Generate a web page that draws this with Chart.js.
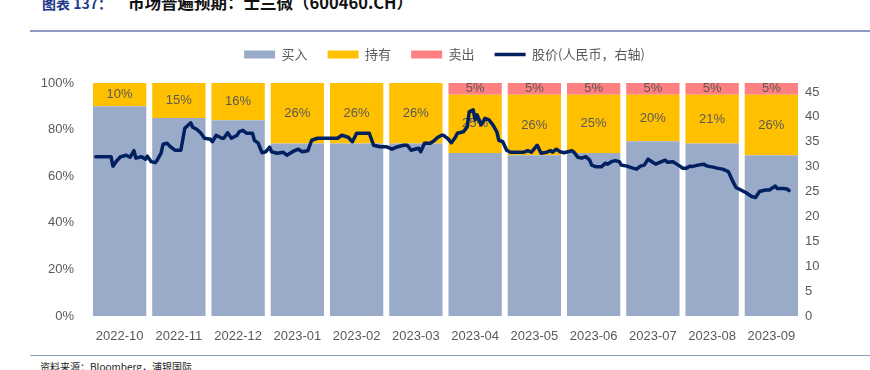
<!DOCTYPE html>
<html><head><meta charset="utf-8">
<script src="https://cdn.jsdelivr.net/npm/chart.js@4.4.0/dist/chart.umd.min.js"></script>
<style>
html,body{margin:0;padding:0;background:#fff;width:870px;height:370px;overflow:hidden;position:relative;font-family:"Noto Sans CJK SC",sans-serif;}
#title{position:absolute;left:42px;top:-6px;line-height:16px;font-weight:bold;color:#111;white-space:nowrap;}
#title .num{color:#1F3A8A;font-size:14px;display:inline-block;width:86px;}
#title .txt{font-size:16.5px;}
.rule{position:absolute;left:30px;width:840px;height:1px;background:#8D9BC6;}
#src{position:absolute;left:40px;top:361px;font-size:10px;line-height:12px;color:#222;white-space:nowrap;}
#wrap{position:absolute;left:19px;top:28px;width:851px;height:324px;}
</style></head>
<body>
<div id="title"><span class="num">图表 137：</span><span class="txt">市场普遍预期：士兰微（600460.CH）</span></div>
<div class="rule" style="top:30px;height:2px"></div>
<div id="wrap"><canvas id="c" width="851" height="324"></canvas></div>
<div class="rule" style="top:355px"></div>
<div id="src">资料来源：Bloomberg，浦银国际</div>
<script>
const categories = ['2022-10','2022-11','2022-12','2023-01','2023-02','2023-03','2023-04','2023-05','2023-06','2023-07','2023-08','2023-09'];
const buyPct  = [90,85,84,74,74,74,70,69,70,75,74,69];
const holdPct = [10,15,16,26,26,26,25,26,25,20,21,26];
const sellPct = [0,0,0,0,0,0,5,5,5,5,5,5];
const seriesNames = ['买入','持有','卖出','股价(人民币，右轴)'];
const pctTicks = [0,20,40,60,80,100];
const priceTicks = [0,5,10,15,20,25,30,35,40,45];

const priceDates = [
'2022-10-04','2022-10-12','2022-10-13','2022-10-15','2022-10-17','2022-10-20','2022-10-22','2022-10-24','2022-10-25','2022-10-28','2022-10-30','2022-10-31',
'2022-11-02','2022-11-04','2022-11-05','2022-11-07','2022-11-08','2022-11-10','2022-11-12','2022-11-14','2022-11-17','2022-11-19','2022-11-22','2022-11-23','2022-11-25','2022-11-27','2022-11-29',
'2022-12-02','2022-12-03','2022-12-05','2022-12-08','2022-12-09','2022-12-11','2022-12-13','2022-12-16','2022-12-17','2022-12-19','2022-12-21','2022-12-24','2022-12-25','2022-12-27','2022-12-29','2022-12-31',
'2023-01-02','2023-01-03','2023-01-06','2023-01-09','2023-01-11','2023-01-14','2023-01-17','2023-01-19','2023-01-22','2023-01-24','2023-01-27','2023-01-31',
'2023-02-06','2023-02-08','2023-02-11','2023-02-13','2023-02-15','2023-02-18','2023-02-21','2023-02-23','2023-02-26',
'2023-03-01','2023-03-04','2023-03-07','2023-03-10','2023-03-12','2023-03-14','2023-03-18','2023-03-19','2023-03-21','2023-03-24','2023-03-26','2023-03-28','2023-03-30','2023-03-31',
'2023-04-02','2023-04-04','2023-04-06','2023-04-07','2023-04-10','2023-04-12','2023-04-13','2023-04-15','2023-04-16','2023-04-17','2023-04-19','2023-04-21','2023-04-23','2023-04-25','2023-04-27','2023-04-28','2023-04-30',
'2023-05-02','2023-05-04','2023-05-11','2023-05-13','2023-05-15','2023-05-18','2023-05-20','2023-05-23','2023-05-25','2023-05-26','2023-05-28','2023-05-30',
'2023-06-01','2023-06-05','2023-06-06','2023-06-08','2023-06-10','2023-06-12','2023-06-14','2023-06-15','2023-06-17','2023-06-20','2023-06-22','2023-06-23','2023-06-25','2023-06-27','2023-06-29','2023-06-30',
'2023-07-03','2023-07-06','2023-07-08','2023-07-10','2023-07-12','2023-07-14','2023-07-16','2023-07-18','2023-07-21','2023-07-23','2023-07-24','2023-07-27','2023-07-29','2023-07-31',
'2023-08-01','2023-08-03','2023-08-05','2023-08-06','2023-08-09','2023-08-12','2023-08-14','2023-08-17','2023-08-19','2023-08-22','2023-08-25','2023-08-27','2023-08-29','2023-08-31',
'2023-09-03','2023-09-06','2023-09-08','2023-09-10','2023-09-13','2023-09-15','2023-09-18','2023-09-19','2023-09-22','2023-09-24','2023-09-25'
];
const priceValues = [
32.0,32.0,30.1,31.2,32.0,32.3,31.9,33.2,31.7,32.0,31.5,32.1,
31.0,30.8,31.3,32.7,34.5,34.7,33.9,33.3,33.3,37.7,38.8,37.9,37.5,36.8,35.7,
35.5,35.0,36.3,35.7,35.7,36.8,35.7,36.3,37.0,37.3,36.7,36.7,35.3,34.7,32.8,33.0,
33.9,33.0,32.7,32.9,32.3,33.0,33.5,33.0,33.2,35.3,35.7,35.7,
35.7,36.3,35.9,35.0,36.7,36.7,36.7,34.3,34.0,
34.0,33.5,34.0,34.3,34.3,33.3,33.7,33.0,34.7,34.7,35.2,35.9,36.3,36.3,
35.7,34.8,35.9,36.7,37.0,38.0,41.0,41.4,39.4,40.4,38.4,39.7,39.4,38.4,37.0,35.3,35.0,
33.3,32.9,32.9,33.2,32.9,34.3,32.7,32.9,33.2,32.9,33.5,33.0,
32.8,33.2,32.9,31.9,31.7,32.0,31.3,30.3,30.0,30.0,30.7,30.5,31.0,31.2,31.0,30.3,
30.1,29.7,29.5,30.1,30.3,31.5,31.0,30.5,31.0,31.3,30.9,31.0,30.5,30.0,
29.7,29.7,30.1,30.0,30.3,30.5,30.1,29.9,29.7,29.5,29.0,27.3,25.8,25.4,
24.8,24.0,23.8,25.0,25.3,25.3,26.1,25.6,25.6,25.5,25.2
];

// position of a date along the month categories (category i spans i-0.5 .. i+0.5)
function monthPos(d){
  const [yy,mm,dd] = d.split('-').map(Number);
  const idx = categories.indexOf(yy + '-' + String(mm).padStart(2,'0'));
  const dim = new Date(yy, mm, 0).getDate();
  return idx - 0.5 + (dd - 1) / dim;
}
const pricePoints = priceDates.map((d,i) => ({x: monthPos(d), y: priceValues[i]}));

const GRAY = '#595959';
const FONT = '"Liberation Sans", Arial, sans-serif';
Chart.defaults.font.family = FONT;
Chart.defaults.font.size = 13;
Chart.defaults.color = GRAY;

const barLabels = {
  id: 'barLabels',
  afterDatasetDraw(chart, args) {
    const ds = chart.data.datasets[args.index];
    if (!ds.showLabels) return;
    const ctx = chart.ctx;
    ctx.save();
    ctx.font = '13px ' + FONT;
    ctx.fillStyle = GRAY;
    ctx.textAlign = 'center';
    ctx.textBaseline = 'middle';
    args.meta.data.forEach((el, i) => {
      const v = ds.data[i];
      if (!v) return;
      const p = el.getProps(['x','y','base'], true);
      ctx.fillText(v + '%', p.x, (p.y + p.base) / 2);
    });
    ctx.restore();
  }
};
const legendSpacer = {
  id: 'legendSpacer',
  beforeInit(chart) {
    const lg = chart.legend;
    if (!lg) return;
    const fit = lg.fit;
    lg.fit = function(){ fit.call(lg); lg.height += 12; };
  }
};

const barCommon = {borderWidth: 0, order: 1, yAxisID: 'y', xAxisID: 'x', stack: 'rating', grouped: false};

new Chart(document.getElementById('c'), {
  type: 'bar',
  data: {
    labels: categories,
    datasets: [
      Object.assign({label: seriesNames[0], data: buyPct, backgroundColor: '#9AABCA'}, barCommon),
      Object.assign({label: seriesNames[1], data: holdPct, backgroundColor: '#FFC000', showLabels: true}, barCommon),
      Object.assign({label: seriesNames[2], data: sellPct, backgroundColor: '#FF8080', showLabels: true}, barCommon),
      {type: 'line', label: seriesNames[3], data: pricePoints, borderColor: '#002060', backgroundColor: '#002060', borderWidth: 3.5, pointRadius: 0, tension: 0, borderJoinStyle: 'round', borderCapStyle: 'round', order: 0, yAxisID: 'y1', xAxisID: 'xl'}
    ]
  },
  options: {
    responsive: false,
    animation: false,
    devicePixelRatio: 1,
    barPercentage: 0.9,
    categoryPercentage: 1,
    layout: {padding: 0},
    plugins: {
      tooltip: {enabled: false},
      legend: {
        position: 'top',
        labels: {
          usePointStyle: true,
          pointStyleWidth: 31,
          boxHeight: 8,
          padding: 20,
          color: GRAY,
          font: {family: '"Noto Sans CJK SC", sans-serif', size: 13},
          sort: (a, b) => a.datasetIndex - b.datasetIndex,
          generateLabels(chart) {
            const items = Chart.defaults.plugins.legend.labels.generateLabels(chart);
            items.forEach(it => {
              const ds = chart.data.datasets[it.datasetIndex];
              if (ds.type === 'line') { it.pointStyle = 'line'; it.strokeStyle = '#002060'; it.lineWidth = 3.5; }
              else { it.pointStyle = 'rect'; it.lineWidth = 0; }
            });
            return items;
          }
        }
      }
    },
    scales: {
      x: {
        type: 'category', stacked: true, offset: true,
        grid: {display: false, drawTicks: false}, border: {display: false},
        ticks: {color: GRAY, padding: 13, maxRotation: 0, autoSkip: false},
        afterFit(s){ s.height = 36; }
      },
      xl: {type: 'linear', display: false, offset: false, min: -0.5, max: 11.5, grid: {offset: false}},
      y: {
        stacked: true, position: 'left', min: 0, max: 100,
        grid: {display: false, drawTicks: false}, border: {display: false},
        ticks: {stepSize: 20, color: GRAY, padding: 16, callback: v => v + '%'},
        afterBuildTicks(s){ s.ticks = pctTicks.map(v => ({value: v})); },
        afterFit(s){ s.width = 71; }
      },
      y1: {
        position: 'right', min: 0, max: 46.8,
        grid: {display: false, drawTicks: false}, border: {display: false},
        ticks: {stepSize: 5, color: GRAY, padding: 4},
        afterBuildTicks(s){ s.ticks = priceTicks.map(v => ({value: v})); },
        afterFit(s){ s.width = 69; }
      }
    }
  },
  plugins: [barLabels, legendSpacer]
});
</script>
</body></html>
